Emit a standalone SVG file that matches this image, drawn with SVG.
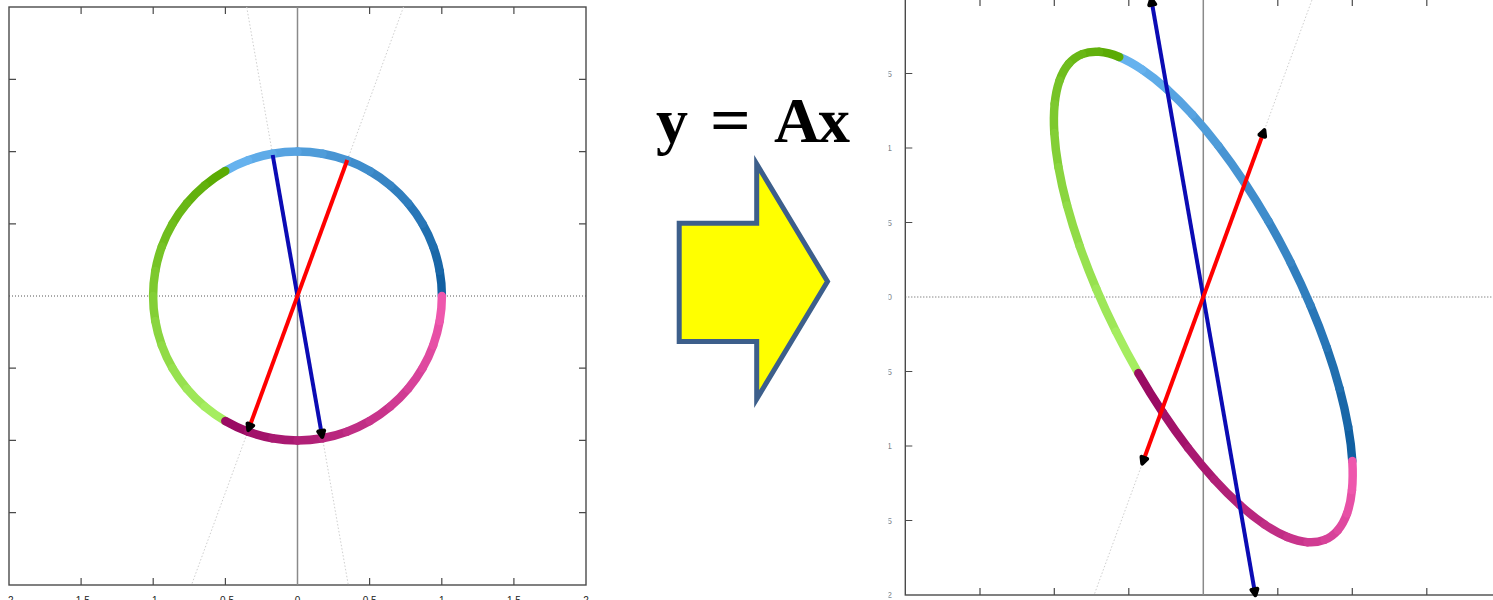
<svg xmlns="http://www.w3.org/2000/svg" xmlns:xlink="http://www.w3.org/1999/xlink" width="1493" height="600" viewBox="0 0 1493 600">
<style>
.frame{fill:none;stroke:#4a4a4a;stroke-width:1.4}
.tick{fill:none;stroke:#4a4a4a;stroke-width:1.2}
.vaxis{stroke:#8a8a8a;stroke-width:1.5}
.haxis{stroke:#555;stroke-width:1;stroke-dasharray:1 2}
.faint{stroke:#cfcfcf;stroke-width:1;stroke-dasharray:1.5 2;fill:none}
.ring path{fill:none;stroke-width:8.5;stroke-linecap:round;vector-effect:non-scaling-stroke}
.vb{stroke:#0b0bb4;stroke-width:4;fill:none}
.vr{stroke:#ff0000;stroke-width:4;fill:none}
.lbl{font-family:"Liberation Sans",Arial,sans-serif;font-size:10px;fill:#222;text-anchor:middle}
.eq{font-family:"Liberation Serif","Times New Roman",serif;font-weight:bold;font-size:64px;fill:#000}
</style>
<defs>
<marker id="head" viewBox="0 0 12 12" refX="6" refY="6" markerWidth="12" markerHeight="12" markerUnits="userSpaceOnUse" orient="auto-start-reverse">
<path d="M3 3L9 6L3 9z" fill="#000" stroke="#000" stroke-width="4" stroke-linejoin="round"/>
</marker>
<clipPath id="ylabclip"><rect x="888.5" y="-10" width="10" height="620"/></clipPath>
<g id="ring" class="ring">
<path stroke="#1160a2" d="M1 0A1 1 0 0 1 .9848 .1736"/>
<path stroke="#1967a8" d="M.9848 .1736A1 1 0 0 1 .9397 .342"/>
<path stroke="#206faf" d="M.9397 .342A1 1 0 0 1 .866 .5"/>
<path stroke="#2876b7" d="M.866 .5A1 1 0 0 1 .766 .6428"/>
<path stroke="#307ebe" d="M.766 .6428A1 1 0 0 1 .6428 .766"/>
<path stroke="#3885c4" d="M.6428 .766A1 1 0 0 1 .5 .866"/>
<path stroke="#3f8dcc" d="M.5 .866A1 1 0 0 1 .342 .9397"/>
<path stroke="#4794d3" d="M.342 .9397A1 1 0 0 1 .1736 .9848"/>
<path stroke="#4f9cd9" d="M.1736 .9848A1 1 0 0 1 0 1"/>
<path stroke="#57a3e1" d="M0 1A1 1 0 0 1 -.1736 .9848"/>
<path stroke="#5eabe8" d="M-.1736 .9848A1 1 0 0 1 -.342 .9397"/>
<path stroke="#66b2ee" d="M-.342 .9397A1 1 0 0 1 -.5 .866"/>
<path stroke="#5bab04" d="M-.5 .866A1 1 0 0 1 -.6428 .766"/>
<path stroke="#62b10d" d="M-.6428 .766A1 1 0 0 1 -.766 .6428"/>
<path stroke="#69b715" d="M-.766 .6428A1 1 0 0 1 -.866 .5"/>
<path stroke="#6fbd1d" d="M-.866 .5A1 1 0 0 1 -.9397 .342"/>
<path stroke="#76c326" d="M-.9397 .342A1 1 0 0 1 -.9848 .1736"/>
<path stroke="#7dc92e" d="M-.9848 .1736A1 1 0 0 1 -1 0"/>
<path stroke="#83cf36" d="M-1 0A1 1 0 0 1 -.9848 -.1736"/>
<path stroke="#8ad53f" d="M-.9848 -.1736A1 1 0 0 1 -.9397 -.342"/>
<path stroke="#91db47" d="M-.9397 -.342A1 1 0 0 1 -.866 -.5"/>
<path stroke="#97e14f" d="M-.866 -.5A1 1 0 0 1 -.766 -.6428"/>
<path stroke="#9ee758" d="M-.766 -.6428A1 1 0 0 1 -.6428 -.766"/>
<path stroke="#a5ed60" d="M-.6428 -.766A1 1 0 0 1 -.5 -.866"/>
<path stroke="#9a0b63" d="M-.5 -.866A1 1 0 0 1 -.342 -.9397"/>
<path stroke="#a2126a" d="M-.342 -.9397A1 1 0 0 1 -.1736 -.9848"/>
<path stroke="#a91971" d="M-.1736 -.9848A1 1 0 0 1 0 -1"/>
<path stroke="#b12077" d="M0 -1A1 1 0 0 1 .1736 -.9848"/>
<path stroke="#b9277e" d="M.1736 -.9848A1 1 0 0 1 .342 -.9397"/>
<path stroke="#c02e85" d="M.342 -.9397A1 1 0 0 1 .5 -.866"/>
<path stroke="#c8348b" d="M.5 -.866A1 1 0 0 1 .6428 -.766"/>
<path stroke="#d03b92" d="M.6428 -.766A1 1 0 0 1 .766 -.6428"/>
<path stroke="#d74299" d="M.766 -.6428A1 1 0 0 1 .866 -.5"/>
<path stroke="#df499f" d="M.866 -.5A1 1 0 0 1 .9397 -.342"/>
<path stroke="#e750a6" d="M.9397 -.342A1 1 0 0 1 .9848 -.1736"/>
<path stroke="#ee57ad" d="M.9848 -.1736A1 1 0 0 1 1 0"/>
</g>
</defs>
<rect width="1493" height="600" fill="#fff"/>

<g id="left-plot">
<rect class="frame" x="9" y="7" width="577" height="578"/>
<path class="tick" d="M81.1 7v7M153.2 7v7M225.4 7v7M369.6 7v7M441.8 7v7M513.9 7v7M81.1 585v-7M153.2 585v-7M225.4 585v-7M369.6 585v-7M441.8 585v-7M513.9 585v-7M9 79.4h7M9 151.6h7M9 223.8h7M9 368.2h7M9 440.4h7M9 512.6h7M586 79.4h-7M586 151.6h-7M586 223.8h-7M586 368.2h-7M586 440.4h-7M586 512.6h-7"/>
<line class="vaxis" x1="297.5" y1="7" x2="297.5" y2="585"/>
<line class="haxis" x1="9" y1="296" x2="586" y2="296"/>
<path class="faint" d="M246.7 7L348.3 585M403.5 7L191.5 585"/>
<use xlink:href="#ring" transform="matrix(144.4 0 0 -144.4 297.5 296)"/>
<line class="vb" x1="272.7" y1="155" x2="321.7" y2="434" marker-end="url(#head)"/>
<line class="vr" x1="347.3" y1="160" x2="249.3" y2="427.3" marker-end="url(#head)"/>
<g id="left-xlabels">
<text class="lbl" x="9" y="604">-2</text>
<text class="lbl" x="81.1" y="604">-1.5</text>
<text class="lbl" x="153.2" y="604">-1</text>
<text class="lbl" x="225.4" y="604">-0.5</text>
<text class="lbl" x="297.5" y="604">0</text>
<text class="lbl" x="369.6" y="604">0.5</text>
<text class="lbl" x="441.8" y="604">1</text>
<text class="lbl" x="513.9" y="604">1.5</text>
<text class="lbl" x="586" y="604">2</text>
</g>
</g>

<g id="transform-label">
<text class="eq" x="656" y="141.7">y</text>
<text class="eq" x="710" y="141.7" transform="translate(710 141.7) scale(1.12 1) translate(-710 -141.7)">=</text>
<text class="eq" x="774" y="141.7">A</text>
<text class="eq" x="818" y="141.7">x</text>
<polygon points="679.2,223.3 756.7,223.3 756.7,164 827.5,281.5 756.7,399 756.7,341.5 679.2,341.5" fill="#ffff00" stroke="#3d5f8b" stroke-width="5"/>
</g>

<g id="right-plot">
<rect class="frame" x="905.3" y="-1" width="596" height="596"/>
<path class="tick" d="M980 -1v7M1054.3 -1v7M1128.8 -1v7M1277.8 -1v7M1352.3 -1v7M1426.8 -1v7M980 595v-7M1054.3 595v-7M1128.8 595v-7M1277.8 595v-7M1352.3 595v-7M1426.8 595v-7M905.3 73.5h7M905.3 148h7M905.3 222.5h7M905.3 371.5h7M905.3 446h7M905.3 520.5h7"/>
<line class="vaxis" x1="1203.3" y1="-1" x2="1203.3" y2="595"/>
<line class="haxis" x1="905.3" y1="297" x2="1493" y2="297"/>
<path class="faint" d="M1263.3 133L1312.3 -1M1143.3 460.7L1094.1 595"/>
<use xlink:href="#ring" transform="matrix(149 163.9 -11 -182.5 1203.3 297)"/>
<line class="vb" x1="1151.7" y1="1.7" x2="1254.9" y2="592.3" marker-start="url(#head)" marker-end="url(#head)"/>
<line class="vr" x1="1263.3" y1="133" x2="1143.3" y2="460.7" marker-start="url(#head)" marker-end="url(#head)"/>
<g id="right-ylabels" clip-path="url(#ylabclip)" style="font-family:'Liberation Sans',Arial,sans-serif;font-size:9px;fill:#888;text-anchor:end">
<text x="892" y="76.5">1.5</text>
<text x="892" y="151">1</text>
<text x="892" y="225.5">0.5</text>
<text x="892" y="300">0</text>
<text x="892" y="374.5">-0.5</text>
<text x="892" y="449">-1</text>
<text x="892" y="523.5">-1.5</text>
<text x="892" y="598">-2</text>
</g>
</g>
</svg>
